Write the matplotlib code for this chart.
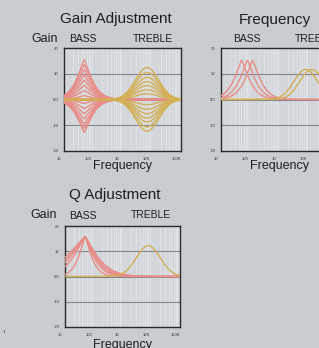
import numpy as np
import matplotlib
matplotlib.use("Agg")
import matplotlib.pyplot as plt
import matplotlib.transforms as mtransforms

# ---------------- data ----------------
x_tick_values = [10, 100, 1000, 10000, 100000]
x_tick_labels = ["10", "100", "1K", "10K", "100K"]
y_tick_values = [-20, -10, 0, 10, 20]
y_tick_labels = ["-20", "-10", "0.0", "10", "20"]
gridline_values = [-10, 0, 10]

# Panel 1: Gain adjustment (bass centre ~49 Hz, treble centre ~6.9 kHz)
gain_bass_center_hz = 49
gain_bass_db = [15.5, 13.5, 11.5, 9.5, 7.5, 5.5, 3.5, 1.5,
                -1.5, -3.5, -5.5, -7.5, -9.5, -11.2, -12.8]
gain_treble_center_hz = 6900
gain_treble_db = [12.4, 10.5, 8.6, 6.9, 5.4, 3.8, 2.2,
                  -2.0, -3.8, -5.5, -7.2, -8.7, -10.6, -12.3]

# Panel 2: Frequency adjustment
freq_bass_centers_hz = [51, 80, 120]
freq_bass_db = 15.3
freq_treble_centers_hz = [7900, 12600]
freq_treble_db = 11.7

# Panel 3: Q adjustment (widths in decades, left / right side of the peak)
q_bass_center_hz = 50
q_bass_db = 15.8
q_bass_width_left = [0.30, 0.54, 0.67, 0.77, 0.89]
q_bass_width_right = [0.30, 0.40, 0.46, 0.52, 0.58]
q_treble_center_hz = 7900
q_treble_db = 12.2

# curve shape parameters (width in decades, exponent)
bass_width, bass_shape = 0.36, 1.25
treble_width, treble_shape = 0.566, 2.0
q_treble_width = 0.59

# ---------------- style ----------------
W, H = 319, 348
FIG_BG = "#c9cdd1"
AX_BG = "#d3d7db"
BASS_C = "#e98d88"
TREBLE_C = "#d4b055"
TXT = "#1e1e1e"
FONT = ["Liberation Sans", "DejaVu Sans"]
plt.rcParams["font.family"] = FONT
LW = 1.0

freqs = np.logspace(1, 5, 800)


def bell(f, f0, gain, s_left, s_right, p):
    d = np.log10(f / f0)
    s = np.where(d < 0, s_left, s_right)
    return gain * np.exp(-(np.abs(d) / s) ** p)


fig = plt.figure(figsize=(W / 100, H / 100), dpi=100)
fig.patch.set_facecolor(FIG_BG)


def make_axes(left, top, right, bottom):
    ax = fig.add_axes([left / W, 1 - bottom / H, (right - left) / W, (bottom - top) / H])
    ax.set_facecolor(AX_BG)
    ax.set_xscale("log")
    ax.set_xlim(10, 100000)
    ax.set_ylim(-20, 20)
    minor = [m * 10 ** e for e in range(1, 5) for m in range(2, 10)]
    for mv in minor:
        ax.axvline(mv, color="white", lw=0.6, alpha=0.35, zorder=0.5)
    for gv in gridline_values:
        ax.axhline(gv, color="#80868c", lw=0.8, zorder=1)
    ax.set_xticks(x_tick_values)
    ax.set_xticklabels(x_tick_labels)
    ax.xaxis.set_minor_locator(matplotlib.ticker.NullLocator())
    ax.set_yticks(y_tick_values)
    ax.set_yticklabels(y_tick_labels)
    ax.tick_params(length=0, labelsize=3, colors="#333333", pad=4)
    off = mtransforms.ScaledTranslation(-5 / 100, 0, fig.dpi_scale_trans)
    for lab in ax.get_xticklabels():
        lab.set_transform(lab.get_transform() + off)
    for sp in ax.spines.values():
        sp.set_color("#2a2a2a")
        sp.set_linewidth(1.0)
    return ax


def ftext(x, y, s, size, ha="center"):
    fig.text(x / W, 1 - y / H, s, fontsize=size, color=TXT, ha=ha, va="center")


# ---- Panel 1 ----
ax1 = make_axes(64, 48, 181, 151)
for g in gain_bass_db:
    ax1.plot(freqs, bell(freqs, gain_bass_center_hz, g, bass_width, bass_width, bass_shape),
             color=BASS_C, lw=LW, zorder=3)
for g in gain_treble_db:
    ax1.plot(freqs, bell(freqs, gain_treble_center_hz, g, treble_width, treble_width, treble_shape),
             color=TREBLE_C, lw=LW, zorder=3)
ftext(115.5, 19, "Gain Adjustment", 11)
ftext(44.5, 39, "Gain", 9)
ftext(83, 39, "BASS", 7.5)
ftext(152.5, 39, "TREBLE", 7.5)
ftext(122, 166, "Frequency", 9)

# ---- Panel 2 ----
ax2 = make_axes(221, 48, 338, 151)
for f0 in freq_bass_centers_hz:
    ax2.plot(freqs, bell(freqs, f0, freq_bass_db, bass_width, bass_width, bass_shape),
             color=BASS_C, lw=LW, zorder=3)
for f0 in freq_treble_centers_hz:
    ax2.plot(freqs, bell(freqs, f0, freq_treble_db, treble_width, treble_width, treble_shape),
             color=TREBLE_C, lw=LW, zorder=3)
ftext(275, 20, "Frequency", 11)
ftext(246.5, 39, "BASS", 7.5)
ftext(295, 39, "TREBLE", 7.5, ha="left")
ftext(279.5, 166, "Frequency", 9)

# ---- Panel 3 ----
ax3 = make_axes(65, 226, 180, 327)
for sl, sr in zip(q_bass_width_left, q_bass_width_right):
    ax3.plot(freqs, bell(freqs, q_bass_center_hz, q_bass_db, sl, sr, bass_shape),
             color=BASS_C, lw=LW, zorder=3)
ax3.plot(freqs, bell(freqs, q_treble_center_hz, q_treble_db, q_treble_width, q_treble_width, treble_shape),
         color=TREBLE_C, lw=LW, zorder=3)
ftext(115, 195, "Q Adjustment", 11)
ftext(44, 215, "Gain", 9)
ftext(82.5, 216, "BASS", 7.5)
ftext(151, 215, "TREBLE", 7.5)
ftext(122, 345, "Frequency", 9)

ftext(3, 332, "1", 3, ha="left")

fig.savefig("out.png", dpi=100, facecolor=FIG_BG)
